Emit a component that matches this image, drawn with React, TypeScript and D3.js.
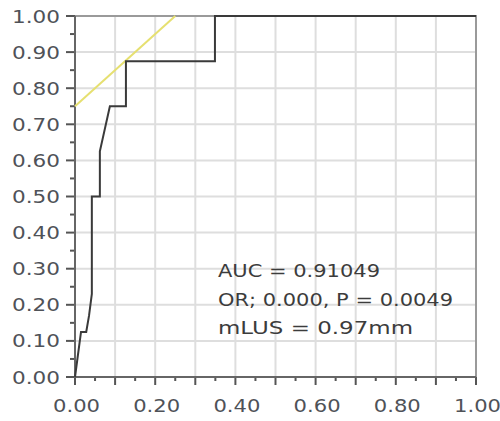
import React, { useRef, useEffect } from "react";
import * as d3 from "d3";

const width = 500;
const height = 421;
const margin = { top: 16, right: 24, bottom: 44, left: 75 };

// ROC curve points (1 - specificity, sensitivity)
const rocFpr = [0, 0.015, 0.028, 0.035, 0.042, 0.042, 0.062, 0.062, 0.087, 0.127, 0.127, 0.349, 0.349, 1];
const rocTpr = [0, 0.125, 0.125, 0.17, 0.23, 0.5, 0.5, 0.625, 0.75, 0.75, 0.875, 0.875, 1, 1];

// tangent (cut-off) line
const tangentX = [0, 0.25];
const tangentY = [0.75, 1];

const majorTicks = [0, 0.1, 0.2, 0.3, 0.4, 0.5, 0.6, 0.7, 0.8, 0.9, 1];
const minorTicks = [0.05, 0.15, 0.25, 0.35, 0.45, 0.55, 0.65, 0.75, 0.85, 0.95];
const xLabels = [0, 0.2, 0.4, 0.6, 0.8, 1];
const yLabels = [0, 0.1, 0.2, 0.3, 0.4, 0.5, 0.6, 0.7, 0.8, 0.9, 1];

const notes = ["AUC = 0.91049", "OR; 0.000, P = 0.0049", "mLUS = 0.97mm"];
const noteLengths = [162, 235, 195];

const App = () => {
  const ref = useRef<SVGSVGElement>(null);

  useEffect(() => {
    if (!ref.current) return;
    const svg = d3.select(ref.current);
    svg.selectAll("*").remove();

    const x = d3.scaleLinear().domain([0, 1]).range([margin.left, width - margin.right]);
    const y = d3.scaleLinear().domain([0, 1]).range([height - margin.bottom, margin.top]);
    const fmt = d3.format(".2f");

    svg.append("rect").attr("width", width).attr("height", height).attr("fill", "white");

    // grid
    const grid = svg.append("g").attr("stroke", "#dedede").attr("stroke-width", 2);
    grid.selectAll("line.v")
      .data(majorTicks.slice(1, -1))
      .join("line")
      .attr("x1", (d) => x(d)).attr("x2", (d) => x(d))
      .attr("y1", y(0)).attr("y2", y(1));
    grid.selectAll("line.h")
      .data(majorTicks.slice(1, -1))
      .join("line")
      .attr("class", "h")
      .attr("y1", (d) => y(d)).attr("y2", (d) => y(d))
      .attr("x1", x(0)).attr("x2", x(1));

    // frame top/right
    svg.append("path")
      .attr("d", `M${x(0)},${y(1)}H${x(1)}V${y(0)}`)
      .attr("fill", "none")
      .attr("stroke", "#9a9a9a")
      .attr("stroke-width", 2);

    // ticks
    const ticks = svg.append("g").attr("stroke", "#555").attr("stroke-width", 2);
    ticks.selectAll("line.ym")
      .data(majorTicks)
      .join("line")
      .attr("x1", x(0) - 9).attr("x2", x(0))
      .attr("y1", (d) => y(d)).attr("y2", (d) => y(d));
    ticks.selectAll("line.yn")
      .data(minorTicks)
      .join("line")
      .attr("class", "yn")
      .attr("x1", x(0) - 5).attr("x2", x(0))
      .attr("y1", (d) => y(d)).attr("y2", (d) => y(d));
    ticks.selectAll("line.xm")
      .data(majorTicks)
      .join("line")
      .attr("class", "xm")
      .attr("x1", (d) => x(d)).attr("x2", (d) => x(d))
      .attr("y1", y(0)).attr("y2", y(0) + 8);
    ticks.selectAll("line.xn")
      .data(minorTicks)
      .join("line")
      .attr("class", "xn")
      .attr("x1", (d) => x(d)).attr("x2", (d) => x(d))
      .attr("y1", y(0)).attr("y2", y(0) + 4);

    // axes
    svg.append("path")
      .attr("d", `M${x(0)},${y(1)}V${y(0)}H${x(1)}`)
      .attr("fill", "none")
      .attr("stroke", "#666")
      .attr("stroke-width", 2);

    // tick labels
    const labels = svg.append("g")
      .attr("font-family", "DejaVu Sans, Verdana, sans-serif")
      .attr("font-size", 17)
      .attr("fill", "#4f5258");
    labels.selectAll("text.y")
      .data(yLabels)
      .join("text")
      .attr("x", 12)
      .attr("y", (d) => y(d) + 6.5)
      .attr("textLength", 48)
      .attr("lengthAdjust", "spacingAndGlyphs")
      .text((d) => fmt(d));
    labels.selectAll("text.x")
      .data(xLabels)
      .join("text")
      .attr("class", "x")
      .attr("x", (d) => x(d) - 22)
      .attr("y", 412)
      .attr("textLength", 47)
      .attr("lengthAdjust", "spacingAndGlyphs")
      .text((d) => fmt(d));

    // tangent line
    svg.append("line")
      .attr("x1", x(tangentX[0])).attr("y1", y(tangentY[0]))
      .attr("x2", x(tangentX[1])).attr("y2", y(tangentY[1]))
      .attr("stroke", "#e6e070")
      .attr("stroke-width", 2);

    // ROC curve
    const line = d3.line<number>()
      .x((d) => x(rocFpr[d]))
      .y((d) => y(rocTpr[d]));
    svg.append("path")
      .datum(d3.range(rocFpr.length))
      .attr("d", line)
      .attr("fill", "none")
      .attr("stroke", "#3a3a3a")
      .attr("stroke-width", 2);

    // annotation
    svg.append("g")
      .attr("font-family", "DejaVu Sans, Verdana, sans-serif")
      .attr("font-size", 17)
      .attr("fill", "#3c3c3c")
      .selectAll("text")
      .data(notes)
      .join("text")
      .attr("x", 218)
      .attr("y", (d, i) => 277 + i * 28.5)
      .attr("textLength", (d, i) => noteLengths[i])
      .attr("lengthAdjust", "spacingAndGlyphs")
      .text((d) => d);
  }, []);

  return (
    <svg
      ref={ref}
      width={width}
      height={height}
      style={{ position: "absolute", left: 0, top: 0, display: "block" }}
    />
  );
};

export default App;
